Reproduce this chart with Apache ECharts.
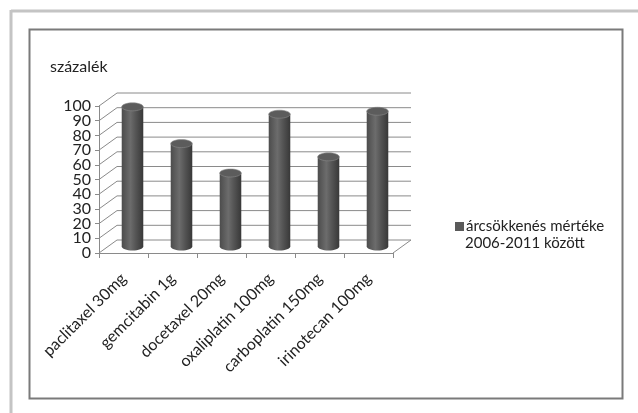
<!DOCTYPE html>
<html>
<head>
<meta charset="utf-8">
<script src="https://cdn.jsdelivr.net/npm/echarts@6/dist/echarts.min.js"></script>
<style>
html,body{margin:0;padding:0;background:#fff;}
#c{width:638px;height:413px;}
</style>
</head>
<body>
<div id="c"></div>
<script>
var categories = ['paclitaxel 30mg','gemcitabin 1g','docetaxel 20mg','oxaliplatin 100mg','carboplatin 150mg','irinotecan 100mg'];
var values = [95, 70, 50, 90, 61, 92];
var yTicks = [0,10,20,30,40,50,60,70,80,90,100];
var seriesName = 'árcsökkenés mértéke\n2006-2011 között';
var yTitle = 'százalék';

var DX = 18, DY = -13;
var FONT = 'Lato, "Open Sans", sans-serif';
var GRID_TOP = 106, GRID_H = 147;

var chart = echarts.init(document.getElementById('c'), null, {renderer:'canvas'});

function frameItem(params, api){
  var cs = params.coordSys;
  var v = api.value(1);
  var y = api.coord([0, v])[1];
  var x0 = cs.x, x1 = cs.x + cs.width;
  var st = {stroke:'#8a8a8a', lineWidth:1};
  var children = [
    {type:'line', shape:{x1:x0, y1:y, x2:x0+DX, y2:y+DY}, style:st},
    {type:'line', shape:{x1:x0+DX, y1:y+DY, x2:x1+DX, y2:y+DY}, style:st}
  ];
  if (v === 0) {
    children.push({type:'line', shape:{x1:x1, y1:y, x2:x1+DX, y2:y+DY}, style:st});
  }
  return {type:'group', children:children};
}

function barItem(params, api){
  var idx = api.value(0);
  var top = api.coord([idx, api.value(1)]);
  var base = api.coord([idx, 0]);
  var w = api.size([1,0])[0]*0.44;
  var cx = top[0] + DX/2;
  var ty = top[1] + DY/2;
  var by = base[1] + DY/2;
  var rx = w/2, ry = 4;
  var grad = new echarts.graphic.LinearGradient(0,0,1,0,[
    {offset:0, color:'#4c4c4c'},
    {offset:0.4, color:'#6c6c6c'},
    {offset:0.65, color:'#555555'},
    {offset:1, color:'#383838'}
  ]);
  return {type:'group', children:[
    {type:'ellipse', shape:{cx:cx, cy:by, rx:rx, ry:ry}, style:{fill:grad}},
    {type:'rect', shape:{x:cx-rx, y:ty, width:w, height:by-ty}, style:{fill:grad}},
    {type:'ellipse', shape:{cx:cx, cy:ty, rx:rx, ry:ry}, style:{fill:'#5c5c5c', stroke:'#8a8a8a', lineWidth:0.6}}
  ]};
}

var labelStyle = {fontSize:16, color:'#222', margin:8, fontFamily:FONT};

var option = {
  animation:false,
  backgroundColor:'#ffffff',
  textStyle:{fontFamily:FONT},
  graphic:[
    {type:'line', shape:{x1:11, y1:11, x2:638, y2:11}, style:{stroke:'#c4c4c4', lineWidth:3}, silent:true},
    {type:'line', shape:{x1:11, y1:10, x2:11, y2:413}, style:{stroke:'#c4c4c4', lineWidth:3}, silent:true},
    {type:'rect', shape:{x:29.5, y:29.5, width:593, height:369}, style:{fill:null, stroke:'#7a7a7a', lineWidth:2}, silent:true},
    {type:'text', left:50, top:59, style:{text:yTitle, font:'16px '+FONT, fill:'#222'}},
    {type:'text', left:465, top:236, style:{text:seriesName.split('\n')[1], font:'15px '+FONT, fill:'#222'}}
  ],
  legend:{
    data:[{name:seriesName, icon:'rect'}],
    formatter:function(n){return n.split('\n')[0];},
    left:450, top:214,
    orient:'vertical',
    itemWidth:9, itemHeight:9, itemGap:4,
    textStyle:{fontSize:15, color:'#222', fontFamily:FONT, padding:[0,0,0,-3]}
  },
  grid:[
    {left:99, width:294, top:GRID_TOP, height:GRID_H, containLabel:false},
    {left:99, width:294, top:GRID_TOP + GRID_H*0.1, height:GRID_H*0.8, containLabel:false}
  ],
  xAxis:[
    {
      type:'category', data:categories, gridIndex:0,
      axisLine:{lineStyle:{color:'#8a8a8a'}},
      axisTick:{show:true, length:5, lineStyle:{color:'#8a8a8a'}},
      axisLabel:{interval:0, rotate:45, fontSize:16, color:'#222', margin:23, fontFamily:FONT}
    },
    {type:'category', data:categories, gridIndex:1, show:false}
  ],
  yAxis:[
    {
      type:'value', gridIndex:0, min:0, max:100, interval:10, position:'left',
      axisLine:{show:true, lineStyle:{color:'#8a8a8a'}},
      axisTick:{show:true, length:4, lineStyle:{color:'#8a8a8a'}},
      splitLine:{show:false},
      axisLabel:{show:false}
    },
    {
      type:'value', gridIndex:0, min:0, max:100, interval:20, position:'left', offset:0,
      axisLine:{show:false}, axisTick:{show:false}, splitLine:{show:false},
      axisLabel:labelStyle
    },
    {
      type:'value', gridIndex:1, min:10, max:90, interval:20, position:'left', offset:0,
      axisLine:{show:false}, axisTick:{show:false}, splitLine:{show:false},
      axisLabel:labelStyle
    }
  ],
  series:[
    {
      type:'custom', name:'frame', silent:true, z:1,
      xAxisIndex:0, yAxisIndex:0,
      renderItem:frameItem,
      data:yTicks.map(function(v){return [0, v];})
    },
    {
      type:'custom', name:seriesName, z:3,
      xAxisIndex:0, yAxisIndex:0,
      itemStyle:{color:'#5a5a5a'},
      renderItem:barItem,
      encode:{x:0, y:1},
      data:values.map(function(v,i){return [i, v];})
    }
  ]
};
chart.setOption(option);
</script>
</body>
</html>
